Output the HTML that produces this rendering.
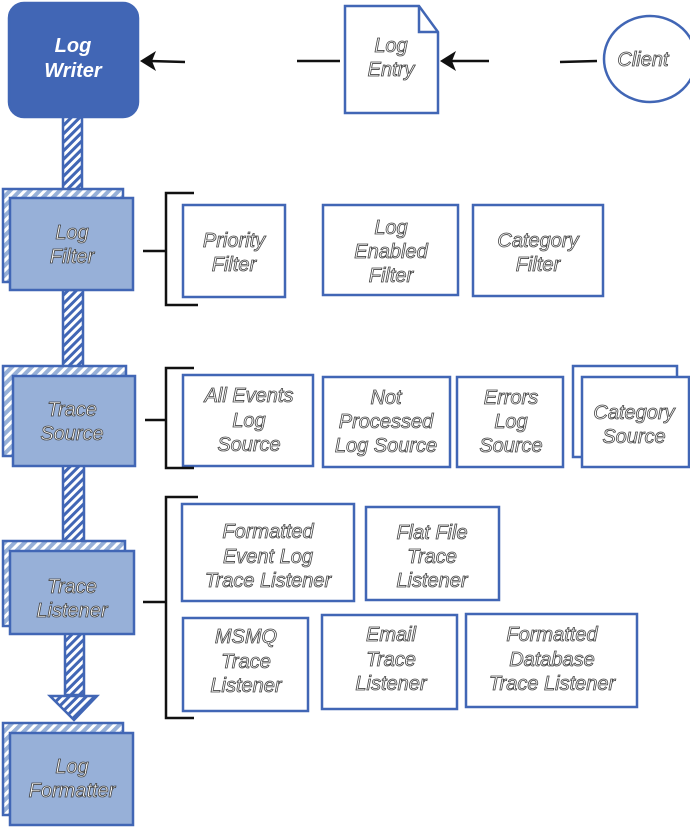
<!DOCTYPE html>
<html><head><meta charset="utf-8"><style>
html,body{margin:0;padding:0;background:#fff;}
svg{display:block}
text{font-family:"Liberation Sans",sans-serif;font-style:italic;font-size:20px;text-anchor:middle;fill:#fff;stroke:#444;stroke-width:0.8;}
</style></head><body>
<svg width="690" height="827" viewBox="0 0 690 827" xmlns="http://www.w3.org/2000/svg">
<defs>
<pattern id="h" width="6" height="6" patternUnits="userSpaceOnUse" patternTransform="rotate(45)">
<rect width="6" height="6" fill="#fff"/><rect width="3" height="6" fill="#4166b5"/></pattern>
<pattern id="h2" width="7" height="7" patternUnits="userSpaceOnUse" patternTransform="rotate(45)">
<rect width="7" height="7" fill="#fff"/><rect width="4" height="7" fill="#97b0d8"/></pattern>
</defs>
<g stroke="#4166b5" stroke-width="2.5">
<rect x="63" y="116" width="19" height="75" fill="url(#h)"/>
<rect x="63" y="290" width="20" height="80" fill="url(#h)"/>
<rect x="63" y="465" width="21" height="80" fill="url(#h)"/>
<rect x="65" y="633" width="19" height="62" fill="url(#h)"/>
<polygon points="50,696 97,696 74,720" fill="url(#h)"/>
<rect x="9" y="3" width="129" height="114" rx="15" fill="#4166b5"/>
<rect x="3" y="189" width="120" height="93" fill="url(#h2)"/>
<rect x="10" y="198" width="123" height="92" fill="#97b0d8"/>
<rect x="3" y="366" width="123" height="90" fill="url(#h2)"/>
<rect x="13" y="376" width="122" height="90" fill="#97b0d8"/>
<rect x="3" y="541" width="122" height="85" fill="url(#h2)"/>
<rect x="10" y="551" width="124" height="83" fill="#97b0d8"/>
<rect x="3" y="723" width="120" height="92" fill="url(#h2)"/>
<rect x="10" y="733" width="123" height="92" fill="#97b0d8"/>
<path d="M345,6 L419,6 L438,32 L438,113 L345,113 Z" fill="#fff"/>
<path d="M419,6 L419,32 L438,32" fill="none"/>
<ellipse cx="650" cy="59" rx="46" ry="43" fill="#fff"/>
<rect x="183" y="205" width="102" height="92" fill="#fff"/>
<rect x="323" y="205" width="135" height="90" fill="#fff"/>
<rect x="473" y="205" width="130" height="91" fill="#fff"/>
<rect x="183" y="375" width="130" height="91" fill="#fff"/>
<rect x="323" y="377" width="127" height="90" fill="#fff"/>
<rect x="457" y="377" width="106" height="90" fill="#fff"/>
<rect x="573" y="366" width="104" height="91" fill="#fff"/>
<rect x="582" y="377" width="107" height="90" fill="#fff"/>
<rect x="182" y="504" width="172" height="97" fill="#fff"/>
<rect x="366" y="507" width="133" height="93" fill="#fff"/>
<rect x="183" y="618" width="125" height="93" fill="#fff"/>
<rect x="322" y="615" width="135" height="94" fill="#fff"/>
<rect x="466" y="614" width="171" height="93" fill="#fff"/>
</g>
<g stroke="#111" stroke-width="2.5" fill="none">
<line x1="150" y1="61" x2="185" y2="62"/>
<line x1="297" y1="61" x2="340" y2="61"/>
<line x1="450" y1="61" x2="489" y2="61"/>
<line x1="560" y1="62" x2="597" y2="61"/>
<path d="M194,193 L166,193 L166,305 L198,305"/><line x1="143" y1="251" x2="166" y2="251"/>
<path d="M194,368 L166,368 L166,468 L194,468"/><line x1="145" y1="420" x2="166" y2="420"/>
<path d="M198,497 L166,497 L166,718 L194,718"/><line x1="143" y1="602" x2="166" y2="602"/>
</g>
<polygon points="140,61 156,51 152,61 156,71" fill="#111"/>
<polygon points="440,61 456,51 452,61 456,71" fill="#111"/>
<text x="73" y="52" style="fill:#fff;stroke:none;font-weight:bold">Log</text>
<text x="73" y="77" style="fill:#fff;stroke:none;font-weight:bold">Writer</text>
<text x="391" y="52">Log</text><text x="391" y="76">Entry</text>
<text x="643" y="66">Client</text>
<text x="72" y="239">Log</text><text x="72" y="263">Filter</text>
<text x="72" y="416">Trace</text><text x="72" y="440">Source</text>
<text x="72" y="593">Trace</text><text x="72" y="617">Listener</text>
<text x="72" y="773">Log</text><text x="72" y="797">Formatter</text>
<text x="234" y="247">Priority</text><text x="234" y="271">Filter</text>
<text x="391" y="234">Log</text><text x="391" y="258">Enabled</text><text x="391" y="282">Filter</text>
<text x="538" y="247">Category</text><text x="538" y="271">Filter</text>
<text x="249" y="402">All Events</text><text x="249" y="427">Log</text><text x="249" y="451">Source</text>
<text x="386" y="404">Not</text><text x="386" y="428">Processed</text><text x="386" y="452">Log Source</text>
<text x="511" y="404">Errors</text><text x="511" y="428">Log</text><text x="511" y="452">Source</text>
<text x="634" y="419">Category</text><text x="634" y="443">Source</text>
<text x="268" y="538">Formatted</text><text x="268" y="563">Event Log</text><text x="268" y="587">Trace Listener</text>
<text x="432" y="539">Flat File</text><text x="432" y="563">Trace</text><text x="432" y="587">Listener</text>
<text x="246" y="643">MSMQ</text><text x="246" y="668">Trace</text><text x="246" y="692">Listener</text>
<text x="391" y="641">Email</text><text x="391" y="666">Trace</text><text x="391" y="690">Listener</text>
<text x="552" y="641">Formatted</text><text x="552" y="666">Database</text><text x="552" y="690">Trace Listener</text>
</svg>
</body></html>
